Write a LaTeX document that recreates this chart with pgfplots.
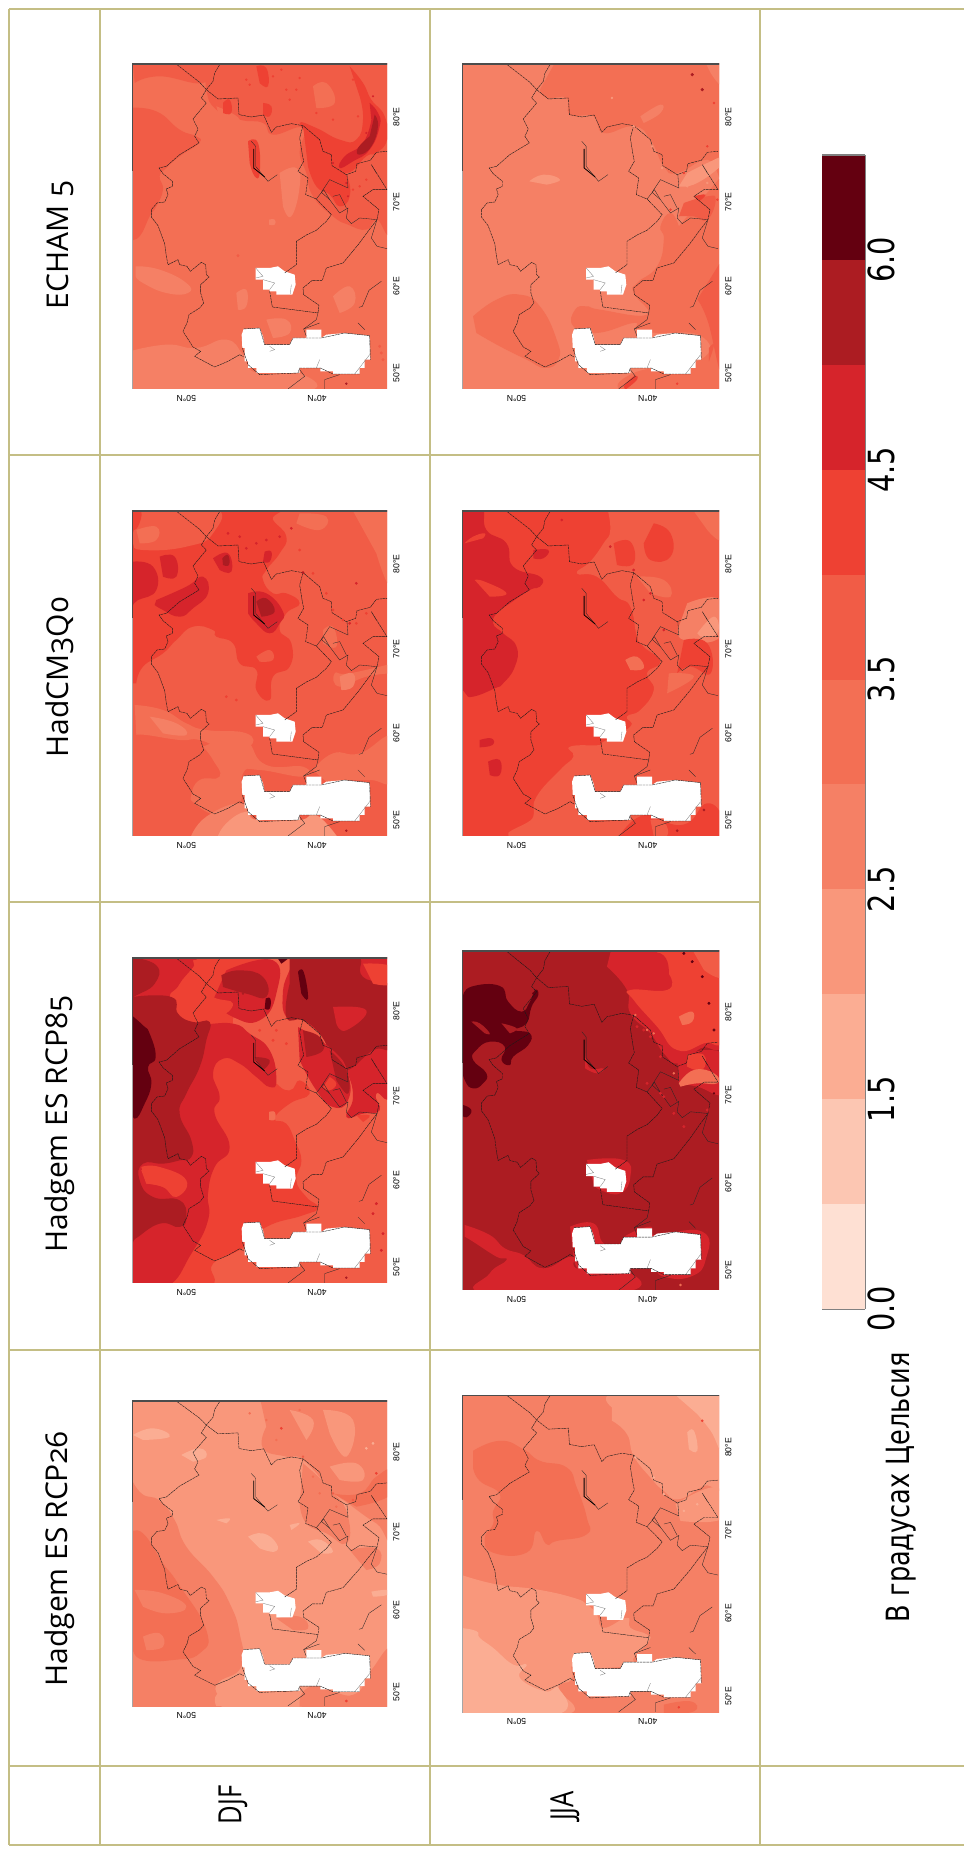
\documentclass[border=0pt]{standalone}
\usepackage{fontspec}
\usepackage{graphicx}
\usepackage{pgfplots}
\pgfplotsset{compat=1.18}
\setmainfont{DejaVu Sans}
\newfontfamily\hd[Numbers=OldStyle]{Open Sans}
\newfontfamily\tk{Liberation Sans}
\definecolor{c0}{HTML}{FEE0D3}
\definecolor{c1}{HTML}{FCC6B2}
\definecolor{c2}{HTML}{FBAD93}
\definecolor{c3}{HTML}{F9977B}
\definecolor{c4}{HTML}{F58065}
\definecolor{c5}{HTML}{F36F54}
\definecolor{c6}{HTML}{F15C46}
\definecolor{c7}{HTML}{EE4133}
\definecolor{c8}{HTML}{D6242B}
\definecolor{c9}{HTML}{AC1C22}
\definecolor{c10}{HTML}{640010}
\definecolor{gridc}{HTML}{C4BE85}
\newcommand{\R}[2]{\addplot[fill=#1,draw=none,smooth,tension=.85,forget plot] coordinates {#2} -- cycle;}
\newcommand{\B}[1]{\addplot[fill=#1,draw=none,forget plot] coordinates {(90,60)(880,60)(880,1100)(90,1100)} -- cycle;}
\newcommand{\D}[3]{\addplot[only marks,mark=*,mark size=#2pt,color=#1,forget plot] coordinates {#3};}
\newcommand{\Lk}[1]{\addplot[black!85,line width=.25pt,geo,forget plot] coordinates {#1};}
\newcommand{\Lg}[1]{\addplot[black!50,line width=.25pt,geo,forget plot] coordinates {#1};}
\newcommand{\Ld}[1]{\addplot[black!90,line width=.3pt,dash pattern=on 2pt off .45pt,geo,forget plot] coordinates {#1};}
\newcommand{\Wh}[1]{\addplot[fill=white,draw=none,geo,forget plot] coordinates {#1} -- cycle;}
\newcommand{\geo}{%
\Wh{(432,868)(480,865)(486,880)(490,890)(495,915)(570,915)(580,895)(620,895)(620,870)(665,870)(665,895)(680,885)(735,880)(810,888)(812,960)(795,960)(795,985)(780,985)(780,1003)(700,1003)(700,995)(662,995)(662,985)(600,985)(600,1000)(470,1000)(470,985)(445,985)(445,965)(435,965)(435,925)(428,925)(426,885)}
\Wh{(468,685)(490,685)(510,685)(535,680)(555,695)(585,705)(588,735)(578,765)(530,765)(530,755)(510,755)(510,750)(490,750)(490,720)(468,720)}
\Ld{(232,75)(300,128)(320,150)(305,175)(320,190)(280,238)(295,268)(285,290)(298,310)(240,345)(200,380)(178,385)(190,402)(218,425)(218,440)(200,448)(205,465)(195,487)(172,490)(155,510)(155,532)(175,558)(195,612)(200,650)(205,675)(235,660)(240,675)(262,680)(272,695)(305,668)(318,675)(320,705)(328,712)(303,735)(303,760)(312,790)(300,805)(268,825)(262,850)(250,875)(280,922)(303,935)(285,950)(345,982)(385,965)(420,945)(432,952)}
\Ld{(360,75)(345,100)(340,125)(320,150)(355,178)(415,175)(418,225)(455,232)(492,226)(515,278)(530,262)(575,252)(610,258)(660,300)(670,335)(695,345)(697,378)(740,405)(768,395)(772,372)(812,362)(830,338)(862,335)}
\Ld{(610,258)(600,295)(608,345)(612,365)(595,395)(625,415)(618,465)(650,478)(695,525)(680,545)(650,572)(622,585)(590,605)(590,675)(555,700)}
\Ld{(510,755)(518,802)(655,820)(658,797)(612,765)(610,745)(638,722)(668,722)(680,685)(730,670)(778,612)(805,575)(832,540)(838,510)(790,470)(820,450)(862,450)(815,375)(830,400)}
\Lk{(655,820)(650,840)(612,868)(620,890)}
\Lk{(660,850)(612,868)}
\Lk{(832,540)(780,535)(755,552)(740,535)(745,505)(720,520)(690,480)(665,458)(690,420)(745,445)(742,405)}
\Lk{(650,478)(672,450)(690,480)}
\Lk{(700,470)(720,465)(740,505)}
\Lk{(845,725)(808,752)(788,800)(778,803)}
\Lk{(775,850)(795,870)}
\Lk{(832,540)(815,595)(832,620)(862,627)}
\Lk{(565,1048)(615,1010)(600,990)}
\Lk{(675,1048)(675,1020)(720,1005)}
\Lg{(810,945)(765,1003)}
\Lg{(660,960)(650,985)}
\Lg{(510,920)(525,930)(510,935)}
\Lg{(490,720)(525,730)(510,750)}
\Lg{(575,735)(572,762)}
\Lg{(468,685)(490,710)(468,715)}
\Lk{(455,305)(468,320)(468,380)(505,425)(533,405)}
\addplot[black,line width=.6pt,geo,forget plot] coordinates {(462,328)(462,385)(495,412)};
\Ld{(432,868)(480,865)(495,915)(570,915)(580,895)(665,895)(735,880)(810,888)(812,960)}
\Ld{(780,1003)(700,1003)(662,985)(600,985)(595,1000)(480,1005)(445,975)(428,925)}
\addplot[black!70,line width=1.3pt,geo,forget plot] coordinates {(97,395)(97,73)(900,73)};
\addplot[black!35,line width=1.3pt,geo,forget plot] coordinates {(97,395)(97,1300)};
}
\pgfplotsset{
 geo/.style={y filter/.expression={73+(y-73)*\gk}},
 mapstyle/.style={scale only axis,anchor=south west,xmin=97,y dir=reverse,ymin=73,
  axis line style={draw=none},major tick length=0pt,tick style={draw=none},
  xtick={260,652},xticklabels={50°N,40°N},
  xticklabel style={rotate=180,anchor=south,inner sep=4.5pt,font=\tk\fontsize{6.5}{8}\selectfont},
  yticklabel pos=right,
  yticklabels={80°E,70°E,60°E,50°E},
  yticklabel style={rotate=90,anchor=north,inner sep=4.5pt,font=\tk\fontsize{6.5}{8}\selectfont},
 }
}
\newcommand{\mapaxis}[9]{\def\gk{#7}%
\begin{axis}[mapstyle,at={(#1pt,#2pt)},width=#3pt,height=#4pt,xmax=#5,ymax=#6,ytick={#8}]
#9
\geo
\end{axis}}
\newcommand{\cb}[1]{\scalebox{.8}[1]{#1}}
\begin{document}
\begin{tikzpicture}
\path[use as bounding box] (0,0) rectangle (723pt,1386.75pt);
\begin{axis}[at={(0pt,0pt)},anchor=south west,scale only axis,width=723pt,height=1386.75pt,
 xmin=0,xmax=964,ymin=0,ymax=1849,y dir=reverse,hide axis,clip=false]
\addplot[gridc,line width=1pt] coordinates {(9,9)(964,9)};
\addplot[gridc,line width=1pt] coordinates {(9,455)(760,455)};
\addplot[gridc,line width=1pt] coordinates {(9,902)(760,902)};
\addplot[gridc,line width=1pt] coordinates {(9,1350)(760,1350)};
\addplot[gridc,line width=1pt] coordinates {(9,1766)(964,1766)};
\addplot[gridc,line width=1.2pt] coordinates {(9,1845)(964,1845)};
\addplot[gridc,line width=.8pt] coordinates {(9,9)(9,1845)};
\addplot[gridc,line width=.8pt] coordinates {(100,9)(100,1845)};
\addplot[gridc,line width=.8pt] coordinates {(430,9)(430,1845)};
\addplot[gridc,line width=.8pt] coordinates {(760,9)(760,1845)};
\node[rotate=90] at (axis cs:60,245) {\hd\fontsize{22.5}{26}\selectfont ECHAM 5};
\node[rotate=90] at (axis cs:60,677) {\hd\fontsize{22.5}{26}\selectfont HadCM3Q0};
\node[rotate=90] at (axis cs:60,1124) {\hd\fontsize{22.5}{26}\selectfont Hadgem ES RCP85};
\node[rotate=90] at (axis cs:60,1559) {\hd\fontsize{22.5}{26}\selectfont Hadgem ES RCP26};
\node[rotate=90] at (axis cs:233,1805) {\scalebox{.8}[1]{\hd\fontsize{24}{28}\selectfont DJF}};
\node[rotate=90] at (axis cs:565,1806) {\scalebox{.8}[1]{\hd\fontsize{24}{28}\selectfont JJA}};
\node[rotate=90] at (axis cs:901,1487) {\scalebox{.8}[1]{\fontsize{24}{28}\selectfont В градусах Цельсия}};
\end{axis}
\begin{axis}[at={(616.5pt,405pt)},anchor=south west,scale only axis,width=32.25pt,height=865.5pt,
 xmin=0,xmax=1,ymin=0,ymax=11,xtick=\empty,ytick={0,2,4,6,8,10},
 yticklabels={\cb{0.0},\cb{1.5},\cb{2.5},\cb{3.5},\cb{4.5},\cb{6.0}},yticklabel pos=right,major tick length=0pt,
 axis line style={draw=black!50,line width=.8pt},
 axis x line*=bottom,axis y line*=right,
 yticklabel style={rotate=90,anchor=north,inner sep=2pt,font=\fontsize{27}{30}\selectfont},
 /pgf/number format/assume math mode=true]
\addplot[fill=c0,draw=none] coordinates {(0,0)(1,0)(1,1)(0,1)} -- cycle;
\addplot[fill=c1,draw=none] coordinates {(0,1)(1,1)(1,2)(0,2)} -- cycle;
\addplot[fill=c2,draw=none] coordinates {(0,2)(1,2)(1,3)(0,3)} -- cycle;
\addplot[fill=c3,draw=none] coordinates {(0,3)(1,3)(1,4)(0,4)} -- cycle;
\addplot[fill=c4,draw=none] coordinates {(0,4)(1,4)(1,5)(0,5)} -- cycle;
\addplot[fill=c5,draw=none] coordinates {(0,5)(1,5)(1,6)(0,6)} -- cycle;
\addplot[fill=c6,draw=none] coordinates {(0,6)(1,6)(1,7)(0,7)} -- cycle;
\addplot[fill=c7,draw=none] coordinates {(0,7)(1,7)(1,8)(0,8)} -- cycle;
\addplot[fill=c8,draw=none] coordinates {(0,8)(1,8)(1,9)(0,9)} -- cycle;
\addplot[fill=c9,draw=none] coordinates {(0,9)(1,9)(1,10)(0,10)} -- cycle;
\addplot[fill=c10,draw=none] coordinates {(0,10)(1,10)(1,11)(0,11)} -- cycle;
\addplot[black!50,line width=.8pt] coordinates {(0,11)(1,11)};
\end{axis}
% ECHAM DJF
\mapaxis{99}{1095}{191.25}{243.75}{862}{1048}{1}{232,487,740,1000}{
\B{c5}
\R{c4}{(90,935)(200,915)(290,925)(380,900)(430,945)(470,1000)(600,1000)(590,1060)(90,1060)}
\R{c6}{(90,205)(170,215)(240,270)(290,290)(298,310)(240,350)(200,385)(180,410)(190,450)(170,500)(150,530)(120,590)(90,600)}
\R{c6}{(320,60)(320,150)(350,210)(420,240)(490,250)(520,285)(610,265)(600,340)(620,400)(640,470)(700,530)(745,555)(800,570)(830,540)(880,540)(880,60)}
\R{c6}{(100,75)(320,75)(310,130)(180,110)(105,130)}
\R{c5}{(170,130)(210,120)(240,180)(180,190)}
\R{c5}{(640,140)(680,130)(705,190)(650,205)}
\R{c5}{(350,200)(420,240)(370,270)}
\R{c7}{(610,258)(660,290)(700,350)(740,405)(750,470)(720,500)(690,465)(650,440)(625,380)}
\R{c7}{(750,80)(790,130)(815,180)(855,230)(862,300)(830,340)(800,350)(740,400)(690,350)(640,300)(600,250)(650,265)(720,300)(770,300)(790,240)(780,170)}
\R{c8}{(810,190)(835,220)(840,260)(810,330)(760,365)(720,385)(735,350)(790,310)(815,240)}
\R{c9}{(825,225)(835,260)(815,320)(780,345)(775,325)(810,290)}
\R{c7}{(445,305)(475,310)(480,400)(465,410)(450,370)}
\R{c7}{(470,80)(500,85)(505,140)(480,130)}
\R{c7}{(490,190)(515,200)(510,230)(490,225)}
\R{c7}{(370,190)(390,180)(395,220)(370,220)}
\R{c4}{(108,680)(180,690)(260,730)(265,760)(200,760)(130,730)(108,710)}
\R{c4}{(540,400)(590,385)(600,440)(575,530)(550,500)}
\R{c4}{(700,770)(750,740)(765,790)(720,820)}
\R{c4}{(410,760)(440,750)(440,800)(415,810)}
\R{c4}{(500,840)(560,840)(570,880)(520,895)}
\R{c4}{(508,540)(525,540)(525,555)(508,555)}
\D{c9}{.7}{(740,1032)}
\D{c6}{.9}{(415,648)(845,940)(840,920)(850,960)}
\D{c7}{.7}{(440,120)(450,135)(560,150)(570,180)(600,115)(650,220)(700,240)(760,120)(775,230)(640,330)(760,450)(780,440)(800,420)(660,350)(690,400)(720,440)(545,90)(590,150)(520,110)}
\D{c8}{.6}{(700,370)(740,430)(745,470)(800,280)(820,170)}
}
% ECHAM JJA
\mapaxis{346.5}{1095}{192.75}{243.75}{865}{1048}{1}{232,487,740,1000}{
\B{c4}
\R{c5}{(380,60)(880,60)(880,400)(830,360)(740,400)(700,380)(660,300)(610,260)(520,280)(490,230)(420,225)(410,175)(350,175)(330,150)}
\R{c5}{(880,400)(880,1060)(600,1060)(610,1000)(810,960)(810,888)(680,880)(620,870)(610,850)(500,880)(430,860)(435,810)(470,800)(510,810)(650,825)(610,760)(620,730)(680,680)(700,600)(690,560)(720,520)(745,560)}
\R{c5}{(130,830)(200,780)(270,765)(330,800)(380,900)(385,960)(345,985)(290,960)(210,920)(140,880)}
\R{c4}{(820,60)(880,60)(880,140)(840,100)}
\R{c4}{(630,230)(690,195)(690,220)(640,250)}
\R{c3}{(298,425)(340,405)(390,420)(350,435)}
\R{c3}{(745,440)(800,430)(880,370)(880,350)(830,370)(770,400)}
\R{c6}{(880,650)(880,1000)(830,840)(800,780)}
\R{c7}{(580,1040)(610,1010)(620,1020)(585,1050)}
\R{c6}{(760,490)(830,470)(855,480)(830,540)(790,530)(745,530)}
\R{c7}{(790,470)(825,465)(805,485)}
\R{c6}{(835,925)(850,915)(835,965)}
\D{c9}{1}{(815,150)(785,105)}
\D{c7}{.7}{(850,190)(830,320)(740,1032)(860,480)(760,400)(720,510)}
\D{c3}{.7}{(545,175)(695,385)(610,260)(665,320)(770,440)(800,420)(830,430)}
}
% HadCM DJF
\mapaxis{99}{759.75}{191.25}{243.75}{862}{1048}{1}{232,487,740,1000}{
\B{c6}
\R{c7}{(110,590)(130,540)(190,500)(230,460)(280,420)(340,430)(350,450)(400,470)(420,530)(470,550)(470,610)(510,640)(520,570)(570,540)(575,470)(540,430)(560,380)(600,350)(560,320)(520,320)(490,280)(500,250)(540,200)(560,150)(520,100)(500,60)(90,60)(90,590)}
\R{c6}{(120,60)(340,60)(340,140)(260,180)(130,190)(100,170)(100,140)}
\R{c6}{(300,450)(310,445)(340,510)(325,530)}
\R{c6}{(470,510)(510,490)(520,520)(480,525)}
\R{c5}{(105,655)(190,670)(260,710)(320,730)(440,740)(450,780)(380,790)(300,760)(240,760)(140,745)(110,745)}
\R{c4}{(150,690)(230,710)(260,745)(190,740)}
\R{c5}{(420,735)(450,770)(500,835)(610,840)(610,870)(480,850)(430,860)(425,940)(380,970)(345,985)(285,950)(275,925)(300,880)(360,870)(340,820)(310,780)}
\R{c4}{(270,1060)(320,990)(430,950)(470,1000)(600,1000)(600,1060)}
\R{c3}{(350,1060)(380,1010)(440,975)(470,1000)(600,1000)(650,985)(720,1060)}
\R{c5}{(640,850)(700,800)(780,800)(880,750)(880,880)(812,880)(735,880)(680,885)}
\R{c5}{(880,560)(800,570)(720,600)(705,560)(750,560)(880,530)}
\R{c5}{(600,80)(680,90)(660,130)(590,110)}
\R{c5}{(760,73)(880,73)(880,300)(830,200)}
\R{c5}{(670,430)(700,420)(710,480)(670,470)}
\R{c5}{(110,130)(170,120)(170,160)(120,170)}
\R{c4}{(720,570)(760,560)(760,600)(725,610)}
\R{c8}{(100,225)(160,240)(170,310)(115,340)(90,350)(90,225)}
\R{c8}{(170,340)(260,300)(310,270)(325,320)(280,365)(240,390)(190,370)(165,355)}
\R{c8}{(180,210)(225,210)(230,270)(190,270)}
\R{c8}{(340,215)(385,200)(395,255)(360,250)}
\R{c8}{(445,320)(500,320)(550,375)(540,410)(510,440)(470,410)(445,380)}
\R{c9}{(470,345)(500,335)(525,375)(485,390)}
\R{c9}{(368,215)(385,205)(388,235)(370,235)}
\R{c7}{(380,120)(500,130)(500,190)(400,170)}
\R{c7}{(100,75)(125,75)(115,120)(98,130)}
\R{c8}{(495,195)(515,195)(510,225)(490,225)}
\D{c8}{.8}{(385,140)(440,185)(470,170)(575,125)(610,258)(500,160)(540,150)(420,150)(770,290)(750,410)}
\D{c7}{.8}{(600,190)(640,260)(680,320)(700,370)(730,400)(770,410)(800,380)(410,640)(380,630)}
\D{c9}{.7}{(740,1032)(610,258)}
}
% HadCM JJA
\mapaxis{346.5}{759.75}{192.75}{243.75}{865}{1048}{1}{232,487,740,1000}{
\B{c7}
\R{c6}{(530,60)(540,130)(520,170)(480,225)(440,260)(500,270)(560,330)(600,360)(620,450)(640,480)(690,525)(650,560)(670,610)(630,670)(590,690)(600,720)(520,765)(510,775)(420,780)(430,810)(390,850)(320,930)(310,990)(290,1060)(880,1060)(880,60)}
\R{c7}{(670,110)(720,140)(720,210)(660,220)(640,170)}
\R{c7}{(550,170)(600,165)(610,230)(560,235)}
\R{c5}{(780,60)(880,60)(880,160)(830,130)}
\R{c5}{(620,270)(700,280)(720,330)(660,320)}
\R{c4}{(770,350)(870,340)(870,450)(760,460)(745,420)}
\R{c3}{(800,440)(850,390)(860,440)(810,450)}
\R{c7}{(560,1060)(610,1000)(670,985)(700,1005)(770,1010)(830,950)(880,1000)(880,1060)}
\R{c6}{(660,1000)(700,1005)(710,1048)(670,1048)}
\R{c7}{(760,460)(830,470)(840,560)(780,540)(740,560)}
\R{c5}{(585,520)(620,510)(640,545)(600,550)}
\R{c5}{(715,560)(790,570)(710,620)}
\R{c8}{(90,60)(155,60)(170,130)(230,170)(250,240)(330,270)(330,300)(300,310)(240,350)(205,375)(190,410)(220,440)(260,480)(255,540)(220,590)(195,605)(130,630)(107,620)(90,590)}
\R{c7}{(105,170)(130,150)(165,140)(160,155)}
\R{c7}{(135,280)(165,285)(230,320)(180,330)}
\R{c8}{(150,760)(185,755)(188,775)(150,782)}
\R{c8}{(175,825)(210,820)(210,865)(180,865)}
\R{c8}{(310,190)(355,190)(340,215)(310,215)}
\D{c8}{.8}{(610,250)(395,100)(540,180)(660,320)(700,430)(640,340)}
\D{c9}{.8}{(820,970)(740,1032)}
}
% RCP85 DJF
\mapaxis{99}{424.5}{191.25}{243.75}{862}{1048}{1}{232,487,740,1000}{
\B{c6}
\R{c7}{(90,1060)(320,1060)(340,990)(425,945)(500,880)(610,845)(655,822)(620,790)(590,740)(605,680)(585,620)(560,570)(525,555)(570,510)(630,480)(600,440)(570,470)(520,440)(430,340)(400,270)(420,240)(470,250)(480,60)(90,60)}
\R{c8}{(90,1060)(200,1060)(275,960)(325,860)(325,780)(345,700)(390,640)(345,540)(360,490)(340,420)(370,375)(420,390)(470,430)(510,460)(530,440)(510,350)(450,300)(400,270)(300,270)(230,250)(210,190)(240,150)(280,60)(90,60)}
\R{c7}{(125,700)(180,700)(260,740)(230,790)(190,760)(140,750)}
\R{c8}{(380,110)(520,80)(530,180)(480,260)(400,250)(340,200)}
\R{c9}{(97,190)(215,190)(235,240)(280,265)(330,265)(320,320)(300,400)(260,480)(240,540)(275,620)(275,670)(240,680)(190,690)(130,690)(120,740)(160,790)(240,800)(260,850)(240,880)(180,870)(107,915)(90,920)(90,190)}
\R{c9}{(90,70)(170,95)(165,150)(110,185)(90,195)}
\R{c7}{(125,710)(175,705)(255,740)(230,785)(190,760)(140,750)}
\R{c9}{(365,125)(420,110)(490,130)(500,190)(440,180)(370,160)}
\R{c7}{(240,170)(290,150)(340,190)(400,210)(350,250)(290,220)}
\R{c7}{(280,80)(340,85)(330,130)(290,120)}
\R{c8}{(440,60)(570,60)(550,170)(560,250)(610,260)(700,340)(740,410)(760,490)(740,550)(790,540)(840,530)(830,480)(880,450)(880,60)}
\R{c9}{(570,60)(760,60)(790,130)(880,170)(880,330)(820,350)(740,410)(700,370)(660,300)(610,260)(560,250)(570,150)}
\R{c8}{(700,220)(800,230)(740,290)(710,270)}
\R{c7}{(790,90)(880,100)(880,150)(820,150)}
\R{c10}{(595,115)(612,115)(625,195)(605,180)}
\R{c10}{(525,60)(575,60)(545,90)}
\R{c10}{(498,195)(512,195)(510,225)(495,225)}
\R{c8}{(595,280)(700,350)(745,420)(745,500)(700,520)(650,470)(600,380)}
\R{c9}{(690,350)(740,410)(745,480)(710,440)}
\R{c9}{(610,290)(660,310)(670,350)(620,370)}
\R{c7}{(690,430)(710,450)(690,470)(670,460)}
\R{c7}{(770,545)(810,545)(790,565)}
\R{c8}{(450,305)(510,375)(490,430)(460,400)}
\R{c9}{(465,370)(510,380)(490,410)}
\R{c10}{(90,240)(130,275)(150,300)(168,370)(145,400)(155,450)(135,510)(105,555)(90,500)}
\R{c5}{(508,535)(525,535)(525,558)(508,558)}
\D{c8}{.9}{(850,900)(830,810)(845,950)(820,840)}
\D{c7}{.9}{(260,190)(300,170)(480,290)(530,290)(520,320)(560,330)}
\D{c9}{.7}{(740,1032)(670,130)(430,180)}
}
% RCP85 JJA
\mapaxis{346.5}{419.25}{192.75}{254.25}{865}{1090}{1.044}{255,505,770,1030}{
\B{c9}
\R{c8}{(105,895)(180,925)(225,965)(280,985)(340,1025)(425,990)(450,1030)(610,1045)(560,1100)(170,1100)(180,1040)(230,1000)(200,990)(130,945)(105,930)}
\R{c8}{(420,900)(490,890)(520,950)(570,950)(590,925)(660,900)(670,925)(815,915)(825,1000)(780,1050)(700,1050)(660,1020)(600,1025)(590,1050)(470,1048)(430,990)}
\R{c8}{(470,700)(580,700)(600,750)(570,800)(510,790)(490,770)}
\R{c10}{(100,210)(125,180)(210,178)(235,225)(275,255)(300,225)(315,190)(325,205)(305,240)(290,290)(255,310)(300,320)(295,355)(250,390)(240,415)(215,400)(225,360)(180,345)(140,370)(130,400)(170,440)(160,470)(130,485)(105,460)(90,400)}
\R{c9}{(125,285)(150,290)(180,320)(165,320)}
\R{c9}{(215,290)(260,305)(240,320)}
\R{c10}{(100,535)(125,550)(110,572)(90,560)}
\R{c8}{(545,60)(880,60)(880,335)(810,365)(745,410)(700,380)(660,320)(600,260)(590,190)(530,120)}
\R{c7}{(670,60)(880,60)(880,320)(820,350)(740,370)(680,300)(610,220)(600,190)(710,190)(720,150)}
\R{c8}{(590,100)(690,80)(715,160)(690,190)(610,170)}
\R{c6}{(780,60)(880,60)(880,150)(820,130)}
\R{c5}{(745,270)(785,255)(785,285)(755,295)}
\R{c8}{(740,395)(830,370)(880,400)(880,500)(800,480)(745,470)}
\R{c7}{(770,385)(820,385)(815,430)(770,420)}
\R{c5}{(745,470)(790,430)(850,440)(860,470)(800,470)(750,480)}
\R{c8}{(465,350)(475,420)(520,425)(500,440)(465,425)}
\D{c10}{.9}{(815,150)(785,105)(760,80)(835,230)(850,310)}
\D{c8}{.9}{(640,310)(660,330)(690,390)(730,560)(760,600)(830,550)(650,470)(700,510)(690,500)(620,300)}
\D{c5}{.7}{(615,265)(670,320)(750,1075)(730,440)(650,310)}
\D{c10}{.6}{(310,200)(850,500)}
}
% RCP26 DJF
\mapaxis{99}{107.25}{191.25}{228.75}{862}{988}{0.938}{225,465,700,945}{
\B{c3}
\R{c4}{(90,295)(125,350)(180,372)(225,430)(260,510)(340,600)(390,680)(420,770)(425,870)(350,925)(345,1000)(90,1000)}
\R{c4}{(480,60)(880,60)(880,460)(830,440)(745,380)(700,345)(610,250)(560,240)(490,215)(500,150)}
\R{c4}{(600,990)(610,945)(660,925)(700,945)(770,950)(815,880)(880,820)(880,1000)}
\R{c4}{(530,725)(600,720)(625,755)(580,760)}
\R{c4}{(610,260)(700,345)(745,420)(740,500)(680,470)(620,440)(600,380)}
\R{c4}{(750,520)(830,515)(840,560)(800,580)}
\R{c3}{(670,100)(760,130)(740,240)(690,170)}
\R{c3}{(570,100)(640,130)(620,190)}
\R{c3}{(690,270)(770,260)(790,310)(720,310)}
\R{c3}{(350,988)(355,950)(430,920)(470,945)(590,945)(560,990)}
\R{c5}{(90,470)(130,470)(190,560)(235,620)(320,760)(300,830)(220,850)(130,850)(100,820)}
\R{c4}{(105,640)(190,650)(260,690)(200,710)(130,690)}
\R{c4}{(130,780)(180,770)(190,810)(140,820)}
\R{c5}{(700,350)(780,350)(830,300)(880,280)(880,350)(770,390)}
\R{c2}{(445,480)(490,470)(530,500)(525,525)(480,515)}
\R{c2}{(625,495)(665,490)(700,525)(665,530)}
\R{c2}{(100,175)(160,155)(210,180)(130,190)}
\R{c2}{(245,235)(300,215)(320,240)(280,255)}
\R{c2}{(350,430)(390,425)(380,440)}
\R{c2}{(570,445)(600,440)(575,460)}
\R{c2}{(815,645)(862,640)(862,655)(820,660)}
\D{c7}{.8}{(545,155)(830,290)(740,973)}
\D{c6}{.7}{(610,240)(700,350)(760,370)}
\D{c5}{.7}{(640,300)(660,350)(710,390)(600,100)(500,130)(530,190)(450,110)}
\D{c2}{.8}{(800,215)(820,200)}
}
% RCP26 JJA
\mapaxis{346.5}{102.75}{192.75}{237.75}{865}{1022}{0.973}{230,478,727,975}{
\B{c4}
\R{c5}{(130,240)(210,210)(280,235)(330,270)(410,290)(440,350)(470,440)(470,490)(380,510)(350,520)(320,480)(290,545)(190,545)(165,500)(190,460)(190,420)(210,370)(150,330)(130,290)}
\R{c3}{(545,110)(570,60)(880,60)(880,330)(820,345)(745,385)(700,360)(660,320)(610,255)(590,190)(545,150)}
\R{c2}{(720,60)(880,60)(880,240)(840,180)(800,130)}
\R{c2}{(770,185)(790,180)(800,240)(775,235)}
\R{c3}{(90,610)(200,640)(320,655)(430,680)(470,700)(500,730)(520,770)(590,740)(600,770)(650,790)(655,810)(610,860)(610,880)(500,890)(430,880)(425,925)(385,950)(410,1030)(90,1030)}
\R{c2}{(90,770)(140,780)(150,800)(190,830)(250,880)(290,880)(270,920)(345,960)(385,950)(380,1030)(90,1030)}
\R{c3}{(735,400)(860,350)(880,440)(750,450)}
\R{c5}{(700,1000)(780,990)(790,1020)(700,1030)}
\D{c7}{.7}{(815,150)(745,1008)}
\D{c2}{.7}{(615,260)(670,320)(700,370)(760,420)(800,400)}
}
\end{tikzpicture}
\end{document}
